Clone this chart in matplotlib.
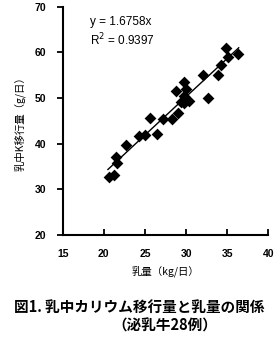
import matplotlib
matplotlib.use("Agg")
import matplotlib.pyplot as plt
import numpy as np

plt.rcParams['font.family'] = ['Noto Sans CJK JP', 'DejaVu Sans']

milk_yield = [20.6, 21.2, 21.6, 21.5, 22.7, 24.3, 25.0, 26.5, 25.6, 27.2, 28.3, 29.0,
              29.4, 30.4, 29.7, 28.8, 30.0, 29.7, 32.7, 32.0, 33.9, 34.3, 35.1, 34.8,
              36.3, 29.8]
k_transfer = [32.7, 33.2, 35.7, 37.0, 39.8, 41.6, 41.8, 42.2, 45.7, 45.5, 45.5, 46.7,
              49.2, 49.4, 50.4, 51.5, 52.0, 53.5, 50.0, 55.0, 55.0, 57.3, 59.0, 61.0,
              59.7, 48.9]
slope = 1.6758
r2 = 0.9397
xticks = [15, 20, 25, 30, 35, 40]
yticks = [20, 30, 40, 50, 60, 70]

W, H = 279, 344
fig = plt.figure(figsize=(W / 100, H / 100), dpi=100)
ax = fig.add_axes([62.7 / W, 109 / H, (268.3 - 62.7) / W, (235 - 6.7) / H])

ax.scatter(milk_yield, k_transfer, marker='D', s=36, color='black', zorder=3, linewidths=0)
xl = np.array([min(milk_yield) - 0.1, max(milk_yield) + 0.1])
ax.plot(xl, slope * xl, color='black', lw=1.0, zorder=2)

ax.set_xlim(15, 40)
ax.set_ylim(20, 70)
ax.set_xticks(xticks)
ax.set_yticks(yticks)
for s in ['top', 'right']:
    ax.spines[s].set_visible(False)
for s in ['left', 'bottom']:
    ax.spines[s].set_linewidth(1.5)
ax.tick_params(axis='x', direction='in', length=4, width=1.3, pad=10)
ax.tick_params(axis='y', direction='out', length=4, width=1.3, pad=8)
for lab in ax.get_xticklabels() + ax.get_yticklabels():
    lab.set_fontfamily(['Liberation Sans', 'DejaVu Sans'])
    lab.set_fontsize(7.5)
    lab.set_fontweight('bold')

ax.text(18.3, 66.6, f'y = {slope}x', fontsize=8.5, family=['Liberation Sans'], va='center')
ax.text(18.3, 62.8, f'R$^2$ = {r2}', fontsize=8.5, family=['Liberation Sans'], va='center')

ax.set_xlabel('乳量（kg/日）', fontsize=7.5, labelpad=5)
ax.set_ylabel('乳中K移行量（g/日）', fontsize=7.5, labelpad=6)

fig.text(139 / W, 1 - 307 / H, '図1. 乳中カリウム移行量と乳量の関係', fontsize=10.5,
         fontweight='bold', ha='center', va='center')
fig.text(165 / W, 1 - 326 / H, '（泌乳牛28例）', fontsize=10.5,
         fontweight='bold', ha='center', va='center')

fig.savefig('out.png', dpi=100)
